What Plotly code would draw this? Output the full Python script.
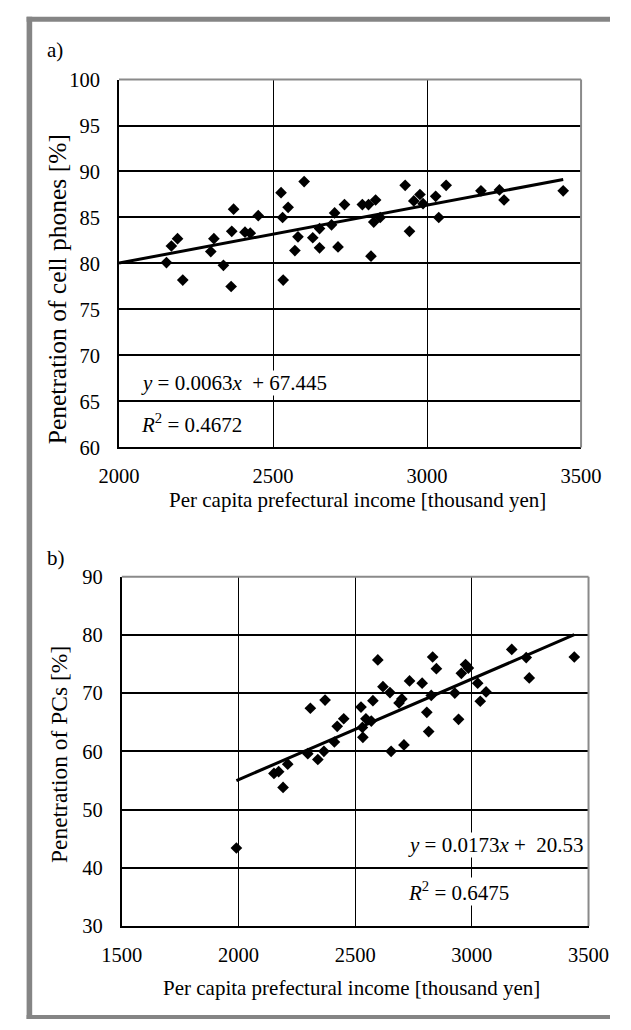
import plotly.graph_objects as go

W, H = 631, 1030

# ---- data: panel a (cell phones) ----
income_a = [2154, 2170, 2190, 2207, 2298, 2308, 2339, 2364, 2372, 2366, 2409, 2426, 2452,
            2526, 2531, 2549, 2533, 2601, 2571, 2581, 2629, 2651, 2651, 2690, 2700, 2711,
            2732, 2790, 2810, 2833, 2818, 2827, 2848, 2929, 2943, 2957, 2977, 2987, 3028,
            3038, 3062, 3175, 3235, 3250, 3442]
cell_a = [80.1, 81.9, 82.7, 78.2, 81.3, 82.7, 79.8, 77.5, 85.9, 83.5, 83.4, 83.3, 85.2,
          87.7, 85.0, 86.1, 78.2, 88.9, 81.4, 82.9, 82.8, 83.8, 81.7, 84.2, 85.5, 81.8,
          86.4, 86.4, 86.4, 86.9, 80.8, 84.5, 85.0, 88.5, 83.5, 86.8, 87.5, 86.5, 87.3,
          85.0, 88.5, 87.9, 88.0, 86.9, 87.9]
slope_a, icpt_a = 0.0063, 67.445
trend_a_x = [2000, 3442]

# ---- data: panel b (PCs) ----
income_b = [1991, 2152, 2172, 2191, 2211, 2297, 2308, 2340, 2366, 2371, 2411, 2423, 2451,
            2525, 2531, 2533, 2546, 2569, 2576, 2597, 2619, 2649, 2654, 2688, 2700, 2709,
            2733, 2787, 2807, 2815, 2826, 2832, 2848, 2927, 2943, 2955, 2973, 2985, 3025,
            3036, 3061, 3171, 3233, 3246, 3439]
pc_b = [43.4, 56.2, 56.5, 53.8, 57.8, 59.6, 67.4, 58.6, 60.0, 68.8, 61.6, 64.3, 65.6,
        67.6, 64.1, 62.4, 65.6, 65.2, 68.7, 75.7, 71.1, 70.1, 60.0, 68.3, 69.0, 61.1,
        72.1, 71.7, 66.7, 63.4, 69.6, 76.2, 74.2, 70.0, 65.5, 73.4, 74.9, 74.3, 71.7,
        68.6, 70.2, 77.5, 76.1, 72.6, 76.2]
slope_b, icpt_b = 0.0173, 20.53
trend_b_x = [1991, 3439]

x_title = "Per capita prefectural income [thousand yen]"
y_title_a = "Penetration of cell phones [%]"
y_title_b = "Penetration of PCs [%]"
eq_a = ["<i>y</i> = 0.0063<i>x</i>\u00a0 + 67.445", "<i>R</i><sup>2</sup> = 0.4672"]
eq_b = ["<i>y</i> = 0.0173<i>x</i> +\u00a0 20.53", "<i>R</i><sup>2</sup> = 0.6475"]

FONT = "Liberation Serif"
FS = 21
TICK_FS = 20.5

def px(x):
    return x / W

def py(y):
    return 1 - y / H

# plot-area pixel boxes
A = dict(l=105, r=600, t=70, b=446)
B = dict(l=108, r=608, t=578, b=935)

fig = go.Figure()
mk = dict(symbol="diamond", size=9, color="black")
fig.add_trace(go.Scatter(x=income_a, y=cell_a, mode="markers", marker=mk,
                         xaxis="x", yaxis="y", showlegend=False))
fig.add_trace(go.Scatter(x=trend_a_x, y=[slope_a * v + icpt_a for v in trend_a_x],
                         mode="lines", line=dict(color="black", width=3),
                         xaxis="x", yaxis="y", showlegend=False))
fig.add_trace(go.Scatter(x=income_b, y=pc_b, mode="markers", marker=mk,
                         xaxis="x2", yaxis="y2", showlegend=False))
fig.add_trace(go.Scatter(x=trend_b_x, y=[slope_b * v + icpt_b for v in trend_b_x],
                         mode="lines", line=dict(color="black", width=3),
                         xaxis="x2", yaxis="y2", showlegend=False))

def xax(box, rng, anchor, gw):
    return dict(domain=[px(box["l"]), px(box["r"])], range=rng, dtick=500, anchor=anchor,
                showgrid=True, gridcolor="black", gridwidth=gw, zeroline=False,
                showline=True, linecolor="black", linewidth=2, ticks="",
                ticklabelstandoff=9, tickfont=dict(family=FONT, size=TICK_FS, color="black"),
                fixedrange=True)

def yax(box, rng, dt, anchor, gw):
    return dict(domain=[py(box["b"]), py(box["t"])], range=rng, dtick=dt, anchor=anchor,
                showgrid=True, gridcolor="black", gridwidth=gw, zeroline=False,
                showline=True, linecolor="black", linewidth=2, ticks="",
                ticklabelstandoff=13, tickfont=dict(family=FONT, size=TICK_FS, color="black"),
                fixedrange=True)

shapes = []
# outer gray frame (top, left, bottom)
shapes.append(dict(type="rect", xref="paper", yref="paper", x0=px(6), x1=px(12), y0=py(1030), y1=py(6),
                   fillcolor="#858585", line=dict(width=0), layer="above"))
shapes.append(dict(type="rect", xref="paper", yref="paper", x0=px(6), x1=px(631), y0=py(11), y1=py(6),
                   fillcolor="#858585", line=dict(width=0), layer="above"))
shapes.append(dict(type="rect", xref="paper", yref="paper", x0=px(6), x1=px(631), y0=py(1030), y1=py(1026),
                   fillcolor="#858585", line=dict(width=0), layer="above"))
# light gray top/right borders of plot areas
for box in (A, B):
    shapes.append(dict(type="line", xref="paper", yref="paper", x0=px(box["l"]), x1=px(box["r"]),
                       y0=py(box["t"]), y1=py(box["t"]), line=dict(color="#8a8a8a", width=2)))
    shapes.append(dict(type="line", xref="paper", yref="paper", x0=px(box["r"]), x1=px(box["r"]),
                       y0=py(box["t"]), y1=py(box["b"]), line=dict(color="#8a8a8a", width=2)))

ann = []
def text(s, x, y, xa="center", angle=0, bg=None, size=FS):
    d = dict(text=s, xref="paper", yref="paper", x=px(x), y=py(y), xanchor=xa, yanchor="middle",
             showarrow=False, font=dict(family=FONT, size=size, color="black"),
             textangle=angle, borderpad=0)
    if bg:
        d["bgcolor"] = bg
    ann.append(d)

text("a)", 27, 40, xa="left")
text("b)", 27, 559, xa="left")
text(x_title, 360, 500)
text(x_title, 354, 998)
text(y_title_a, 40, 284, angle=-90, size=25.5)
text(y_title_b, 40, 760, angle=-90, size=23.5)
text(eq_a[0], 128, 380, xa="left", bg="white")
text(eq_a[1], 128, 421, xa="left", bg="white")
text(eq_b[0], 414, 852, xa="left", bg="white")
text(eq_b[1], 414, 900, xa="left", bg="white")

fig.update_layout(
    width=W, height=H, autosize=False,
    margin=dict(l=0, r=0, t=0, b=0),
    paper_bgcolor="white", plot_bgcolor="white",
    xaxis=xax(A, [2000, 3500], "y", 1.3),
    yaxis=yax(A, [60, 100], 5, "x", 2),
    xaxis2=xax(B, [1500, 3500], "y2", 1.2),
    yaxis2=yax(B, [30, 90], 10, "x2", 2),
    shapes=shapes, annotations=ann,
    font=dict(family=FONT, color="black"),
)

fig.write_html(
    "out.html",
    config={"displayModeBar": False},
    post_script="document.body.style.margin='0';document.body.style.overflow='hidden';",
)
